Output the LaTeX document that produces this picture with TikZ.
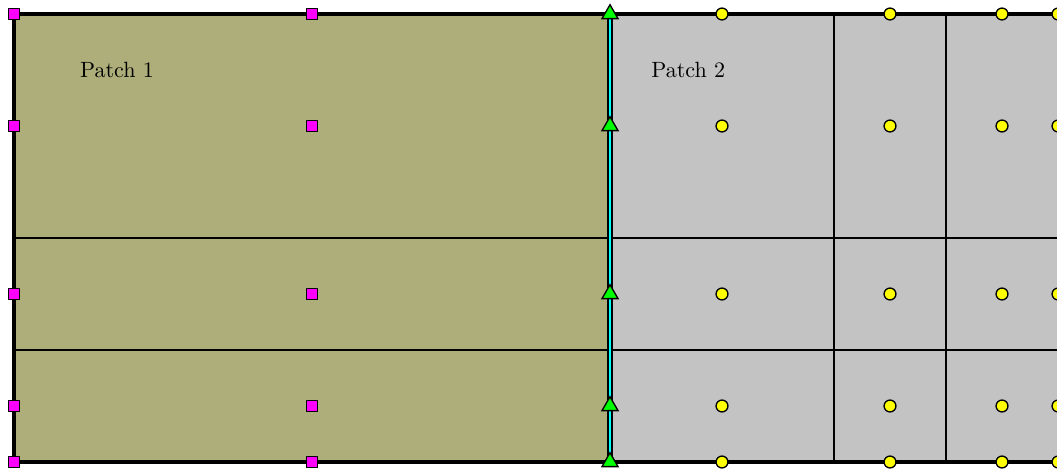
\documentclass[tikz,border=0pt]{standalone}
\usetikzlibrary{shapes.geometric}
\definecolor{patchone}{RGB}{173,174,121}
\definecolor{patchtwo}{RGB}{195,195,195}
\definecolor{sqfill}{RGB}{255,0,255}
\definecolor{ifacecyan}{RGB}{0,255,255}
\definecolor{trifill}{RGB}{0,255,0}
\definecolor{circfill}{RGB}{255,255,0}

\begin{document}
\begin{tikzpicture}[
  x=1.784cm, y=1.784cm,
  gridline/.style={draw=black, line width=0.9pt},
  border/.style={draw=black, line width=1.8pt},
  sqmark/.style={draw=black, fill=sqfill, rectangle, line width=0.6pt, minimum size=4.7pt, inner sep=0pt},
  circmark/.style={draw=black, fill=circfill, circle, line width=0.6pt, minimum size=5.4pt, inner sep=0pt},
  trimark/.style={draw=black, fill=trifill, regular polygon, regular polygon sides=3, line width=0.6pt, minimum size=8.4pt, inner sep=0pt}
]
  \useasboundingbox (-0.125,-0.0536) rectangle (9.3125,4.125);

  % Relleno de los dos parches
  \fill[patchone] (0,0) rectangle (5.3214,4);
  \fill[patchtwo] (5.3214,0) rectangle (10.5,4);

  % Lineas de la malla
  \foreach \y in {1,2} \draw[gridline] (0,\y) -- (10.5,\y);
  \foreach \x in {7.3214,8.3214,9.3214} \draw[gridline] (\x,0) -- (\x,4);

  % Borde exterior
  \draw[border] (10.5,0) -- (0,0) -- (0,4) -- (10.5,4);

  % Interfaz entre parches
  \coordinate (ibot) at (5.3214,0);
  \coordinate (itop) at (5.3214,4);
  \draw[line width=2.3pt] (ibot) -- (itop);
  \draw[ifacecyan, line width=1.3pt] (ibot) -- (itop);

  % Etiquetas
  \node (patch1) at (0.92,3.5) {Patch 1};
  \node (patch2) at (6.02,3.5) {Patch 2};

  % Puntos de control
  \foreach \y [count=\j] in {0,0.5,1.5,3,4} {
    \foreach \x [count=\i] in {0,2.6607}
      \node[sqmark] (sq-\i-\j) at (\x,\y) {};
    \node[trimark] (tri-\j) at (5.3214,\y) {};
    \foreach \x [count=\i] in {6.3214,7.8214,8.8214,9.3214}
      \node[circmark] (ci-\i-\j) at (\x,\y) {};
  }

\end{tikzpicture}
\end{document}
